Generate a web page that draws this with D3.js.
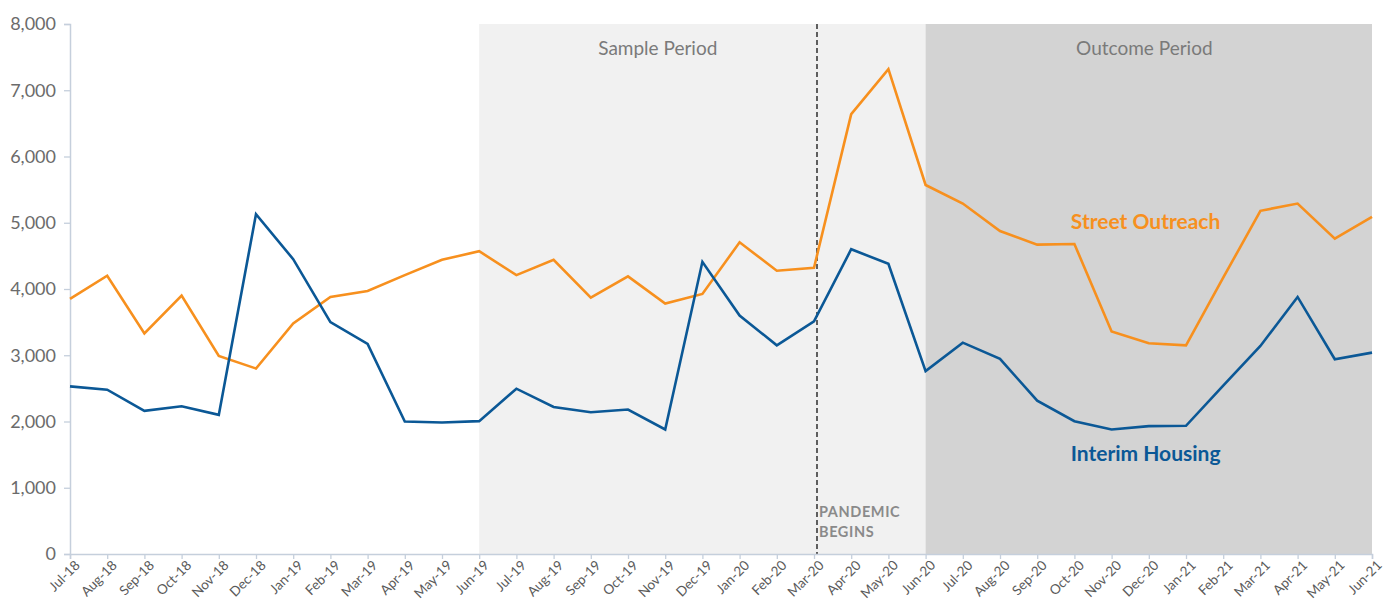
<!DOCTYPE html>
<html>
<head>
<meta charset="utf-8">
<script src="https://cdn.jsdelivr.net/npm/d3@7"></script>
<style>
  body { margin: 0; background: #fff; }
  svg { font-family: Lato, "Open Sans", sans-serif; }
</style>
</head>
<body>
<svg id="chart" width="1393" height="607"></svg>
<script>
// 月份
const months = ['Jul-18','Aug-18','Sep-18','Oct-18','Nov-18','Dec-18','Jan-19','Feb-19','Mar-19','Apr-19','May-19','Jun-19',
  'Jul-19','Aug-19','Sep-19','Oct-19','Nov-19','Dec-19','Jan-20','Feb-20','Mar-20','Apr-20','May-20','Jun-20',
  'Jul-20','Aug-20','Sep-20','Oct-20','Nov-20','Dec-20','Jan-21','Feb-21','Mar-21','Apr-21','May-21','Jun-21']

const streetOutreach = [3850, 4200, 3330, 3900, 2990, 2800, 3480, 3880, 3970, 4210, 4440, 4570,
  4210, 4440, 3870, 4190, 3780, 3925, 4705, 4275, 4320, 6640, 7320, 5570,
  5290, 4875, 4670, 4680, 3360, 3180, 3150, 4170, 5180, 5290, 4760, 5090]

const interimHousing = [2530, 2480, 2160, 2230, 2100, 5130, 4450, 3500, 3170, 2000, 1985, 2005,
  2495, 2220, 2140, 2180, 1880, 4410, 3600, 3150, 3510, 4600, 4380, 2760,
  3190, 2945, 2315, 2005, 1880, 1930, 1935, 2540, 3140, 3880, 2940, 3040]

const yTicks = [0, 1000, 2000, 3000, 4000, 5000, 6000, 7000, 8000]

const periods = [
  { name: 'Sample Period', from: 'Jun-19', to: 'Jun-20', fill: '#f1f1f1', labelPos: 0.4 },
  { name: 'Outcome Period', from: 'Jun-20', to: 'Jun-21', fill: '#d3d3d3', labelPos: 0.49 }
]
const pandemicMonth = 'Mar-20'

const margin = { top: 24, right: 21, bottom: 53, left: 70 }
const width = 1393, height = 607

const svg = d3.select('#chart')
const x = d3.scalePoint().domain(months).range([margin.left, width - margin.right])
const y = d3.scaleLinear().domain([0, 8000]).range([height - margin.bottom, margin.top])

// 背景阴影区域
svg.append('g').selectAll('rect').data(periods).join('rect')
  .attr('x', d => x(d.from))
  .attr('width', d => x(d.to) - x(d.from))
  .attr('y', y(8000))
  .attr('height', y(0) - y(8000))
  .attr('fill', d => d.fill)

svg.append('g').selectAll('text').data(periods).join('text')
  .text(d => d.name)
  .attr('x', d => x(d.from) + (x(d.to) - x(d.from)) * d.labelPos)
  .attr('y', y(7530))
  .attr('text-anchor', 'middle')
  .attr('font-size', '19px')
  .attr('fill', '#7a7a7a')

// 疫情虚线
const px = x(pandemicMonth) + 3
svg.append('line')
  .attr('x1', px).attr('x2', px)
  .attr('y1', y(8000)).attr('y2', y(0))
  .attr('stroke', '#111').attr('stroke-width', 1.3)
  .attr('stroke-dasharray', '5,3')

const pText = svg.append('text')
  .attr('font-size', '14.5px').attr('font-weight', 'bold').attr('fill', '#8a8a8a')
  .attr('letter-spacing', '0.6px')
pText.append('tspan').attr('x', px + 2).attr('y', y(560)).text('PANDEMIC')
pText.append('tspan').attr('x', px + 2).attr('y', y(260)).text('BEGINS')

// 坐标轴
const yAxis = svg.append('g')
  .attr('transform', `translate(${margin.left},0)`)
  .call(d3.axisLeft(y).tickValues(yTicks).tickFormat(d3.format(',')).tickSize(6).tickPadding(8))
yAxis.select('.domain').attr('stroke', '#c5cfdc').attr('stroke-width', 1.5)
yAxis.selectAll('.tick line').attr('stroke', '#c5cfdc').attr('stroke-width', 1.3)
yAxis.selectAll('.tick text').attr('font-size', '18px').attr('fill', '#6b6b6b')
  .attr('font-family', 'Lato, sans-serif')

const xAxis = svg.append('g')
  .attr('transform', `translate(0,${y(0)})`)
  .call(d3.axisBottom(x).tickSize(5).tickPadding(4))
xAxis.select('.domain').attr('stroke', '#c5cfdc').attr('stroke-width', 1.5)
xAxis.selectAll('.tick line').attr('stroke', '#c5cfdc').attr('stroke-width', 1.3)
xAxis.selectAll('.tick text')
  .attr('font-size', '13.5px').attr('fill', '#5a5a5a')
  .attr('font-family', 'Lato, sans-serif')
  .attr('text-anchor', 'end')
  .attr('dx', '-0.1em').attr('dy', '0.5em')
  .attr('transform', 'rotate(-45)')

// 折线
const lineGen = d3.line().x((d, i) => x(months[i])).y(d => y(d))
const series = [
  { name: 'Street Outreach', values: streetOutreach, color: '#f7901e', labelAt: 'Nov-20', labelVal: 4905 },
  { name: 'Interim Housing', values: interimHousing, color: '#0b5896', labelAt: 'Nov-20', labelVal: 1400 }
]
svg.append('g').selectAll('path').data(series).join('path')
  .attr('d', d => lineGen(d.values))
  .attr('fill', 'none')
  .attr('stroke', d => d.color)
  .attr('stroke-width', 2.6)
  .attr('stroke-linejoin', 'miter')

svg.append('g').selectAll('text').data(series).join('text')
  .text(d => d.name)
  .attr('x', d => x(d.labelAt) + 34)
  .attr('y', d => y(d.labelVal))
  .attr('text-anchor', 'middle')
  .attr('font-size', '21px')
  .attr('font-weight', 'bold')
  .attr('fill', d => d.color)
</script>
</body>
</html>
